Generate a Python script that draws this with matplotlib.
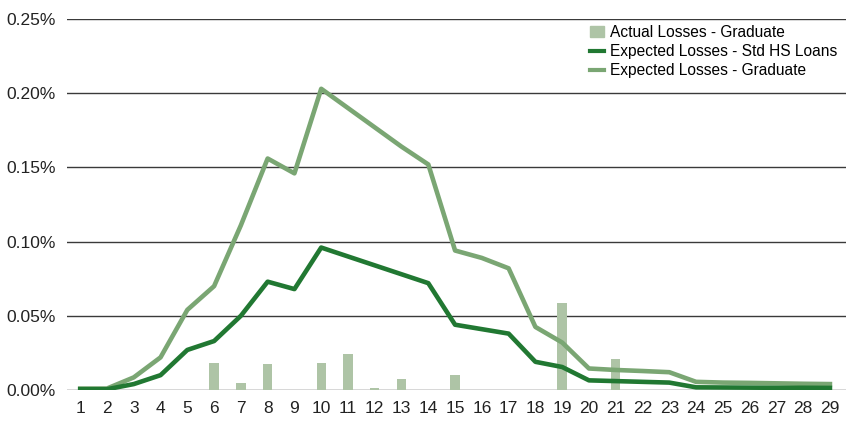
import matplotlib
matplotlib.use('Agg')
import matplotlib.pyplot as plt
from matplotlib.ticker import FuncFormatter
from matplotlib.lines import Line2D
from matplotlib.patches import Patch

plt.rcParams['font.family'] = ['Liberation Sans', 'DejaVu Sans']

# loan age (years)
periods = list(range(1, 30))

# values in percent
actual_grad = [0, 0, 0, 0, 0, 0.018, 0.0047, 0.0175, 0, 0.018,
               0.0245, 0.0015, 0.0075, 0, 0.0101, 0, 0, 0, 0.0587, 0,
               0.021, 0, 0, 0, 0, 0, 0, 0, 0]
expected_std_hs = [0.0005, 0.0005, 0.004, 0.010, 0.027, 0.033, 0.050, 0.073, 0.068, 0.096,
                   0.090, 0.084, 0.078, 0.072, 0.044, 0.041, 0.038, 0.019, 0.0155, 0.0065,
                   0.006, 0.0055, 0.005, 0.0018, 0.0017, 0.0016, 0.0015, 0.0015, 0.0014]
expected_grad = [0.001, 0.001, 0.0085, 0.022, 0.054, 0.070, 0.111, 0.156, 0.146, 0.203,
                 0.190, 0.177, 0.164, 0.152, 0.094, 0.089, 0.082, 0.0425, 0.032, 0.0145,
                 0.0135, 0.0128, 0.012, 0.0055, 0.005, 0.0048, 0.0045, 0.0042, 0.004]

bar_color = '#aec4a6'
dark_green = '#217832'
light_green = '#7aa673'

fig = plt.figure(figsize=(8.46, 4.23), dpi=100)
ax = fig.add_axes([0.079, 0.078, 0.921, 0.877])

ax.bar(periods, actual_grad, width=0.35, color=bar_color, zorder=2)
ax.plot(periods, expected_grad, color=light_green, linewidth=3.3, zorder=3)
ax.plot(periods, expected_std_hs, color=dark_green, linewidth=3.3, zorder=4)

ax.set_xlim(0.5, 29.6)
ax.set_ylim(0, 0.25)
ax.set_xticks(periods)
ax.set_yticks([0, 0.05, 0.10, 0.15, 0.20, 0.25])
ax.yaxis.set_major_formatter(FuncFormatter(lambda v, p: f'{v:.2f}%'))
ax.tick_params(length=0, labelsize=12.5, colors='#222222')
ax.tick_params(axis='x', pad=8)
ax.tick_params(axis='y', pad=8)
ax.grid(axis='y', color='#3a3a3a', linewidth=1, zorder=0)
for s in ax.spines.values():
    s.set_visible(False)

handles = [Patch(color=bar_color),
           Line2D([], [], color=dark_green, linewidth=3),
           Line2D([], [], color=light_green, linewidth=3)]
labels = ['Actual Losses - Graduate',
          'Expected Losses - Std HS Loans',
          'Expected Losses - Graduate']
ax.legend(handles, labels, loc='upper left', bbox_to_anchor=(0.697, 0.94),
          bbox_transform=fig.transFigure, frameon=False, fontsize=11.2,
          handlelength=0.9, handletextpad=0.4, labelspacing=0.25,
          borderaxespad=0, borderpad=0)

fig.savefig('out.png', dpi=100)
